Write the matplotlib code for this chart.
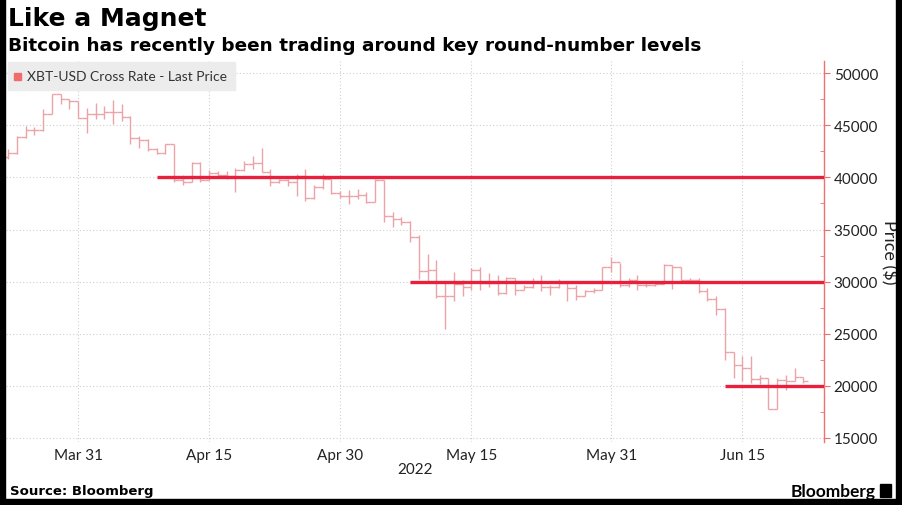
import pandas as pd
import matplotlib
matplotlib.use("Agg")
import matplotlib.pyplot as plt
import matplotlib.dates as mdates
from matplotlib.patches import Rectangle

# daily XBT-USD bars, Mar 23 - Jun 22 2022
dates = pd.date_range("2022-03-23", "2022-06-22", freq="D")

opens = [42000, 42340, 43900, 44540, 44540, 46070, 47990, 47510, 47350,
         45760, 46140, 46140, 46330, 46330, 45850, 43840, 43600, 42720, 42400,
         43200, 39780, 39530, 41350, 39780, 40390, 40260, 40160, 40710, 41280,
         41380, 40550, 39590, 39780, 39530, 40170, 38000, 39050, 39850, 38500,
         38250, 38250, 38310, 37610, 39750, 36330, 36010, 35700, 34260, 31000,
         31060, 28560, 28620, 29800, 29450, 31060, 29840, 29900, 28900, 30320,
         29140, 29520, 30000, 29520, 29520, 29900, 29420, 28650, 29040, 29200,
         31350, 31850, 29680, 30160, 29620, 29620, 29800, 31540, 31440, 30160,
         30100, 29100, 28330, 27370, 23270, 21930, 21670, 20640, 20700, 17760,
         20540, 20390, 20860]
closes = [42340, 43900, 44540, 44540, 46070, 47990, 47510, 47350, 45760,
          46140, 46140, 46330, 46330, 45850, 43840, 43600, 42720, 42400, 43200,
          39780, 39530, 41350, 39780, 40390, 40260, 40160, 40710, 41280, 41380,
          40550, 39590, 39780, 39530, 40170, 38000, 39050, 39850, 38500, 38250,
          38250, 38310, 37610, 39750, 36330, 36010, 35700, 34260, 31000, 31060,
          28560, 28620, 29800, 29450, 31060, 29840, 29900, 28900, 30320, 29140,
          29520, 30000, 29520, 29520, 29900, 29420, 28650, 29040, 29200, 31350,
          31850, 29680, 30160, 29620, 29620, 29800, 31540, 31440, 30160, 30100,
          29100, 28330, 27370, 23270, 21930, 21670, 20640, 20700, 17760, 20540,
          20390, 20860, 20480]
highs = [42720, 44000, 44950, 44860, 46550, 48060, 48000, 47510, 47350,
         46710, 47130, 46870, 47410, 47030, 45910, 44000, 43700, 42880, 43250,
         43200, 40200, 41500, 41450, 40700, 40600, 40650, 40960, 41600, 42080,
         42880, 40800, 39900, 39900, 40330, 40800, 39300, 40300, 39900, 38730,
         38800, 38900, 38600, 39850, 39750, 36650, 36200, 35860, 34430, 32600,
         32080, 30000, 30960, 30160, 31280, 31440, 30800, 30640, 30480, 30320,
         29680, 30320, 30640, 29680, 30200, 30000, 29680, 29200, 29360, 31440,
         32400, 31760, 30320, 30640, 30000, 30050, 31660, 31600, 31440, 30380,
         30320, 29360, 28560, 27430, 23270, 22800, 22800, 20990, 20700, 20700,
         21030, 21670, 20860]
lows = [41760, 42240, 43840, 44090, 44470, 46070, 47030, 46550, 45760,
        44320, 45590, 45590, 45180, 45430, 43200, 42880, 42560, 42240, 42300,
        39530, 39300, 39530, 39600, 39800, 40150, 39900, 38570, 40640, 40850,
        40490, 39200, 39500, 39200, 38250, 37770, 37900, 38900, 38400, 38000,
        37450, 37950, 37550, 37610, 35700, 35220, 35450, 33790, 30280, 29900,
        28400, 25430, 28080, 28560, 29200, 29200, 29520, 28720, 28800, 28720,
        29140, 29360, 29040, 28720, 29400, 28100, 28240, 28560, 28880, 29200,
        30960, 29520, 29520, 29200, 29520, 29550, 29740, 29290, 30000, 30000,
        28880, 28080, 26800, 22470, 20700, 20400, 20240, 20130, 17700, 17700,
        19590, 20390, 20220]

# round-number levels and the day each red line starts
levels = [40000, 30000, 20000]
level_starts = ["2022-04-09", "2022-05-08", "2022-06-13"]

tick_dates = ["2022-03-31", "2022-04-15", "2022-04-30", "2022-05-15",
              "2022-05-31", "2022-06-15"]
y_ticks = [15000, 20000, 25000, 30000, 35000, 40000, 45000, 50000]

W, H = 902, 506
bar_color = "#eba3a8"
level_color = "#e8203c"
axis_color = "#f07070"


def fx(px):
    return px / W


def fy(py):
    return 1 - py / H


fig = plt.figure(figsize=(W / 100, H / 100), dpi=100)
ax = fig.add_axes([fx(6), fy(443), fx(824) - fx(6), fy(62) - fy(443)])

d = mdates.date2num(dates)
ax.vlines(d, lows, highs, color=bar_color, lw=1.0)
ax.hlines(opens, d - 0.5, d, color=bar_color, lw=1.0)
ax.hlines(closes, d, d + 0.5, color=bar_color, lw=1.0)

x_left = mdates.date2num(pd.Timestamp("2022-03-31")) - 8.24
x_right = mdates.date2num(pd.Timestamp("2022-03-31")) + 85.35
ax.set_xlim(x_left, x_right)
ax.set_ylim(14570, 51200)

for lvl, start in zip(levels, level_starts):
    ax.hlines(lvl, mdates.date2num(pd.Timestamp(start)), x_right,
              color=level_color, lw=2.4, zorder=3)

ax.set_xticks([mdates.date2num(pd.Timestamp(t)) for t in tick_dates])
ax.xaxis.set_major_formatter(mdates.DateFormatter("%b %d"))
ax.set_yticks(y_ticks)
ax.set_yticks(range(17500, 50000, 5000), minor=True)
ax.yaxis.tick_right()
ax.yaxis.set_label_position("right")

for s in ["left", "top", "bottom"]:
    ax.spines[s].set_visible(False)
ax.spines["right"].set_color(axis_color)
ax.spines["right"].set_linewidth(1.0)

ax.tick_params(axis="x", length=0, pad=4, labelsize=11, labelcolor="#222222")
ax.tick_params(axis="y", which="major", direction="out", length=4,
               color=axis_color, pad=3, labelsize=11, labelcolor="#222222")
ax.tick_params(axis="y", which="minor", direction="in", length=3,
               color=axis_color)
for lab in ax.get_xticklabels() + ax.get_yticklabels():
    lab.set_family("Lato")

ax.grid(True, which="major", color="#cfcfcf", linestyle=(0, (1, 2)), lw=0.8)
ax.set_axisbelow(True)

ax.set_ylabel("Price ($)", rotation=-90, fontsize=13, family="Lato",
              color="#222222", labelpad=14)

# legend box
fig.patches.append(Rectangle((fx(8), fy(91)), fx(235) - fx(8), fy(63) - fy(91),
                             transform=fig.transFigure, color="#ececec",
                             zorder=5))
fig.patches.append(Rectangle((fx(14), fy(81)), fx(7), fy(0) - fy(7),
                             transform=fig.transFigure, color="#f26b6b",
                             zorder=6))
fig.text(fx(27), fy(77), "XBT-USD Cross Rate - Last Price", fontsize=10,
         family="Lato", color="#333333", va="center", zorder=7)

# titles
fig.text(fx(8), fy(19), "Like a Magnet", fontsize=18, weight="bold",
         va="center", ha="left")
fig.text(fx(8), fy(46), "Bitcoin has recently been trading around key "
         "round-number levels", fontsize=13.3, weight="bold", va="center",
         ha="left")

fig.text(fx(415), fy(470), "2022", fontsize=11, family="Lato",
         color="#222222", ha="center", va="center")
fig.text(fx(10), fy(492), "Source: Bloomberg", fontsize=9.5, weight="bold",
         va="center", ha="left")
fig.text(fx(876), fy(492), "Bloomberg", fontsize=12.5, family="Lato",
         weight="bold", va="center", ha="right")
fig.patches.append(Rectangle((fx(880), fy(498)), fx(11), fy(0) - fy(13),
                             transform=fig.transFigure, color="black"))

# black frame
fig.patches.append(Rectangle((0, 0), fx(5), 1, transform=fig.transFigure,
                             color="black"))
fig.patches.append(Rectangle((fx(896), 0), 1 - fx(896), 1,
                             transform=fig.transFigure, color="black"))
fig.patches.append(Rectangle((0, 0), 1, fy(500), transform=fig.transFigure,
                             color="black"))

fig.savefig("out.png", dpi=100)
